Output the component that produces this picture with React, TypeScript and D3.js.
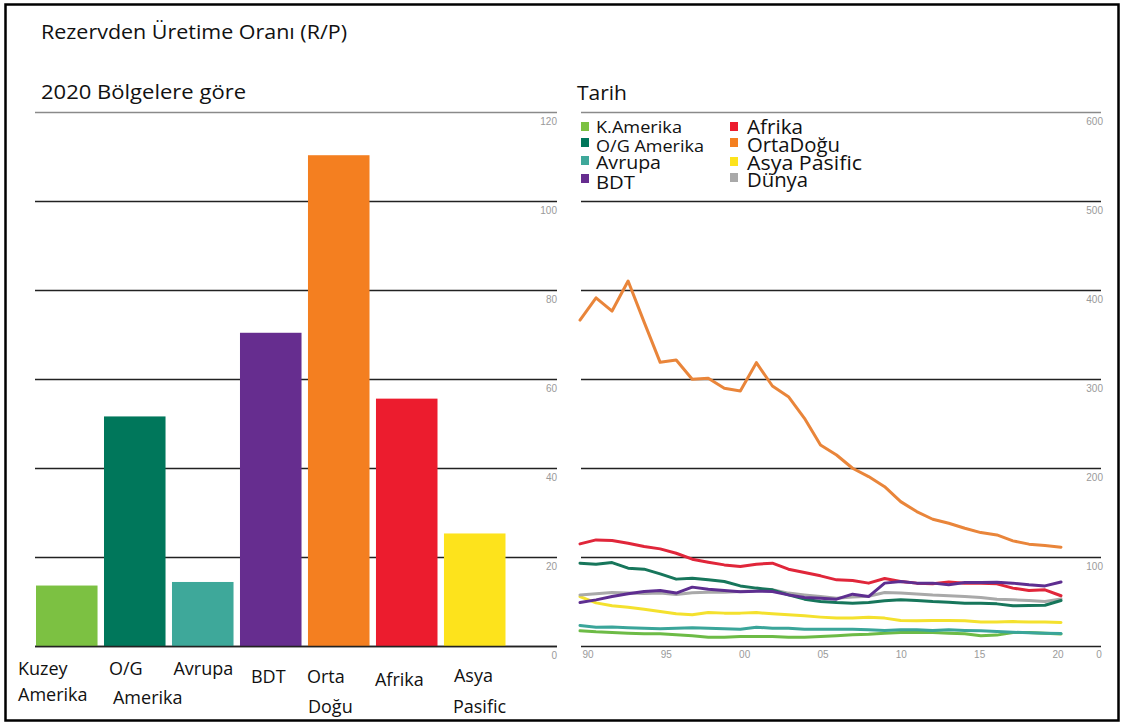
import React from 'react';
import * as d3 from 'd3';

// ---------- DATA ----------
const regions = ['Kuzey Amerika', 'O/G Amerika', 'Avrupa', 'BDT', 'Orta Doğu', 'Afrika', 'Asya Pasific'];
const regionLabelLines = [['Kuzey', 'Amerika'], ['O/G', 'Amerika'], ['Avrupa'], ['BDT'], ['Orta', 'Doğu'], ['Afrika'], ['Asya', 'Pasific']];
const rp2020 = [13.7, 51.7, 14.5, 70.5, 110.4, 55.7, 25.4];
const barColors = ['#7cc142', '#00775b', '#3ea89a', '#662d8f', '#f47f20', '#ec1c2e', '#fde31c'];

const leftTicks = [0, 20, 40, 60, 80, 100, 120];
const rightTicks = [0, 100, 200, 300, 400, 500, 600];

const years = [1990, 1991, 1992, 1993, 1994, 1995, 1996, 1997, 1998, 1999, 2000, 2001, 2002, 2003, 2004, 2005, 2006, 2007, 2008, 2009, 2010, 2011, 2012, 2013, 2014, 2015, 2016, 2017, 2018, 2019, 2020];
const yearTicks = [1990, 1995, 2000, 2005, 2010, 2015, 2020];
const yearTickLabels = ['90', '95', '00', '05', '10', '15', '20'];

const kAmerika = [17.6, 16.5, 15.8, 15.0, 14.3, 14.3, 13.1, 12.0, 10.5, 10.5, 11.2, 11.2, 11.2, 10.5, 10.5, 11.2, 12.0, 13.1, 13.8, 15.0, 15.7, 15.7, 15.7, 15.0, 14.3, 12.0, 12.8, 15.7, 15.7, 15.0, 14.0];
const ogAmerika = [93.6, 92.5, 94.3, 88.0, 86.9, 81.6, 75.7, 76.8, 74.9, 73.0, 68.1, 65.6, 63.7, 58.0, 53.2, 50.5, 49.4, 48.7, 49.4, 51.3, 52.4, 51.6, 50.5, 49.8, 48.7, 48.7, 47.9, 45.7, 46.0, 46.4, 51.7];
const avrupa = [23.6, 21.7, 22.0, 21.2, 20.6, 19.9, 20.6, 21.2, 20.6, 19.9, 19.5, 21.7, 20.6, 20.6, 19.5, 19.5, 19.5, 19.5, 18.7, 18.0, 18.7, 18.7, 18.0, 18.7, 18.0, 17.6, 16.8, 16.0, 15.5, 15.0, 14.5];
const bdt = [49.4, 52.4, 56.1, 59.2, 61.7, 62.9, 60.0, 66.7, 64.4, 62.9, 61.4, 62.2, 61.7, 58.0, 55.0, 54.3, 53.2, 58.8, 56.1, 71.2, 73.0, 71.2, 71.2, 69.3, 71.9, 71.9, 72.2, 71.2, 69.3, 68.1, 72.5];
const afrika = [115.3, 119.8, 119.0, 116.1, 112.3, 109.7, 104.8, 98.1, 94.7, 91.7, 89.8, 92.5, 93.6, 86.9, 83.1, 79.4, 74.9, 74.1, 71.2, 76.4, 73.0, 71.2, 70.4, 72.6, 71.2, 71.2, 70.4, 65.6, 62.9, 63.7, 57.0];
const ortaDogu = [366.8, 391.8, 376.9, 410.6, 364.5, 319.3, 321.9, 300.2, 301.3, 290.1, 287.1, 318.9, 292.7, 280.7, 256.4, 226.4, 215.2, 200.3, 190.9, 179.6, 162.8, 151.6, 143.0, 138.5, 132.9, 128.0, 125.4, 118.7, 115.0, 113.4, 111.6];
const asyaPasific = [56.0, 49.0, 45.7, 44.2, 41.9, 39.3, 36.7, 35.6, 38.2, 37.5, 37.5, 38.2, 36.7, 35.6, 34.5, 33.0, 31.9, 31.9, 33.0, 31.9, 29.2, 28.8, 29.2, 29.2, 28.8, 27.4, 27.4, 28.0, 27.4, 27.4, 27.0];
const dunya = [58.0, 59.2, 60.6, 60.0, 59.5, 60.0, 58.5, 60.5, 61.0, 61.0, 61.7, 62.5, 63.7, 60.0, 58.0, 56.1, 54.3, 55.5, 56.5, 60.6, 60.0, 59.0, 57.8, 57.0, 56.1, 55.0, 53.2, 52.5, 51.6, 50.5, 53.5];

const lineNames = ['K.Amerika', 'Avrupa', 'Asya Pasific', 'Dünya', 'O/G Amerika', 'Afrika', 'BDT', 'OrtaDoğu'];
const lineValues = [kAmerika, avrupa, asyaPasific, dunya, ogAmerika, afrika, bdt, ortaDogu];
const lineColors = ['#6dbb46', '#3aa59a', '#f4e12e', '#a9a9a9', '#17765b', '#e0263a', '#5e2e90', '#e9853a'];

const legendNames = [['K.Amerika', 'O/G Amerika', 'Avrupa', 'BDT'], ['Afrika', 'OrtaDoğu', 'Asya Pasific', 'Dünya']];
const legendColors = [['#7cc142', '#00775b', '#3ea89a', '#662d8f'], ['#ec1c2e', '#f47f20', '#fde31c', '#a9a9a9']];

// ---------- LAYOUT ----------
const W = 1126;
const H = 723;
const plotTop = 112.5;
const plotBottom = 646.5;
const FONT = "'Open Sans', 'Noto Sans', sans-serif";
const TICKFONT = "'Liberation Sans', Arial, sans-serif";

const legendLayout = {
  squareX: [581, 730],
  textX: [596, 747],
  squareTop: [[122, 138, 156, 174], [122, 138, 157, 173]],
  baseline: [[133, 151.5, 169, 189], [134, 152, 170, 187]],
  fontSize: [[16, 16, 19, 19], [20, 20, 20, 20]],
  width: [[86, 108, 65, 39], [56, 93, 115, 61]],
};

const catLabelLayout = {
  dx: [[-18, -18], [5, 9], [1.5], [11], [-1, 0], [-1], [10, 9]],
  baseline: [[675, 701], [675, 704], [675], [683], [683, 713], [686], [682, 713]],
};

export default function App() {
  const yL = d3.scaleLinear().domain([0, 120]).range([plotBottom, plotTop]);
  const xBand = d3.scaleBand<string>().domain(regions).range([36, 505.5]).paddingInner(0.095).paddingOuter(0);
  const yR = d3.scaleLinear().domain([0, 600]).range([plotBottom, plotTop]);
  const xR = d3.scaleLinear().domain([1990, 2020]).range([580, 1061]);
  const xLab = d3.scaleLinear().domain([1990, 2020]).range([588, 1058]);

  const line = d3.line<number>()
    .x((_, i) => xR(years[i]))
    .y((d) => yR(d));

  const leftX0 = 35, leftX1 = 557;
  const rightX0 = 581, rightX1 = 1101;

  return (
    <svg width={W} height={H} style={{ position: 'absolute', left: 0, top: 0, background: '#fff' }}>
      <rect x={0} y={0} width={W} height={H} fill="#fff" />
      <rect x={5.5} y={4.5} width={1113} height={716} fill="none" stroke="#000" strokeWidth={2.5} />

      {/* titles */}
      <text x={41} y={39} fontFamily={FONT} fontSize={19.5} fill="#111" textLength={306} lengthAdjust="spacingAndGlyphs">Rezervden Üretime Oranı (R/P)</text>
      <text x={41} y={99} fontFamily={FONT} fontSize={19.5} fill="#111" textLength={205} lengthAdjust="spacingAndGlyphs">2020 Bölgelere göre</text>
      <text x={577} y={100} fontFamily={FONT} fontSize={19.5} fill="#111" textLength={50} lengthAdjust="spacingAndGlyphs">Tarih</text>

      {/* left gridlines + ticks */}
      {leftTicks.map((t) => (
        <g key={'lt' + t}>
          <line x1={leftX0} x2={leftX1} y1={yL(t)} y2={yL(t)} stroke={t === 120 ? '#8a8a8a' : '#222'} strokeWidth={1.4} />
          <text x={leftX1} y={yL(t) + 12.5} textAnchor="end" fontFamily={TICKFONT} fontSize={10} fill="#9a9a9a">{t}</text>
        </g>
      ))}

      {/* bars */}
      {regions.map((r, i) => (
        <rect key={r} x={xBand(r)} y={yL(rp2020[i])} width={xBand.bandwidth()} height={yL(0) - yL(rp2020[i])} fill={barColors[i]} />
      ))}
      <line x1={leftX0} x2={leftX1} y1={yL(0)} y2={yL(0)} stroke="#222" strokeWidth={1.4} />

      {/* category labels */}
      {regions.map((r, i) => (
        <g key={'cl' + r}>
          {regionLabelLines[i].map((s, j) => (
            <text key={j} x={(xBand(r) as number) + catLabelLayout.dx[i][j]} y={catLabelLayout.baseline[i][j]} fontFamily={FONT} fontSize={18} fill="#111">{s}</text>
          ))}
        </g>
      ))}

      {/* right gridlines + ticks */}
      {rightTicks.map((t) => (
        <g key={'rt' + t}>
          <line x1={rightX0} x2={rightX1} y1={yR(t)} y2={yR(t)} stroke={t === 600 ? '#8a8a8a' : '#222'} strokeWidth={1.4} />
          {t !== 0 && (
            <text x={rightX1 + 2} y={yR(t) + 12.5} textAnchor="end" fontFamily={TICKFONT} fontSize={10} fill="#9a9a9a">{t}</text>
          )}
        </g>
      ))}
      <text x={rightX1 - 2} y={658} textAnchor="middle" fontFamily={TICKFONT} fontSize={10} fill="#9a9a9a">0</text>
      {yearTicks.map((y, i) => (
        <text key={'yt' + y} x={xLab(y)} y={658} textAnchor="middle" fontFamily={TICKFONT} fontSize={10} fill="#9a9a9a">{yearTickLabels[i]}</text>
      ))}

      {/* lines */}
      {lineValues.map((vals, i) => (
        <path key={lineNames[i]} d={line(vals) || ''} fill="none" stroke={lineColors[i]} strokeWidth={3} strokeLinejoin="round" strokeLinecap="round" />
      ))}

      {/* legend */}
      {legendNames.map((col, c) => (
        <g key={'lg' + c}>
          {col.map((name, k) => (
            <g key={name}>
              <rect x={legendLayout.squareX[c]} y={legendLayout.squareTop[c][k]} width={8} height={9} fill={legendColors[c][k]} />
              <text x={legendLayout.textX[c]} y={legendLayout.baseline[c][k]} fontFamily={FONT} fontSize={legendLayout.fontSize[c][k]} fill="#111" textLength={legendLayout.width[c][k]} lengthAdjust="spacingAndGlyphs">{name}</text>
            </g>
          ))}
        </g>
      ))}
    </svg>
  );
}
